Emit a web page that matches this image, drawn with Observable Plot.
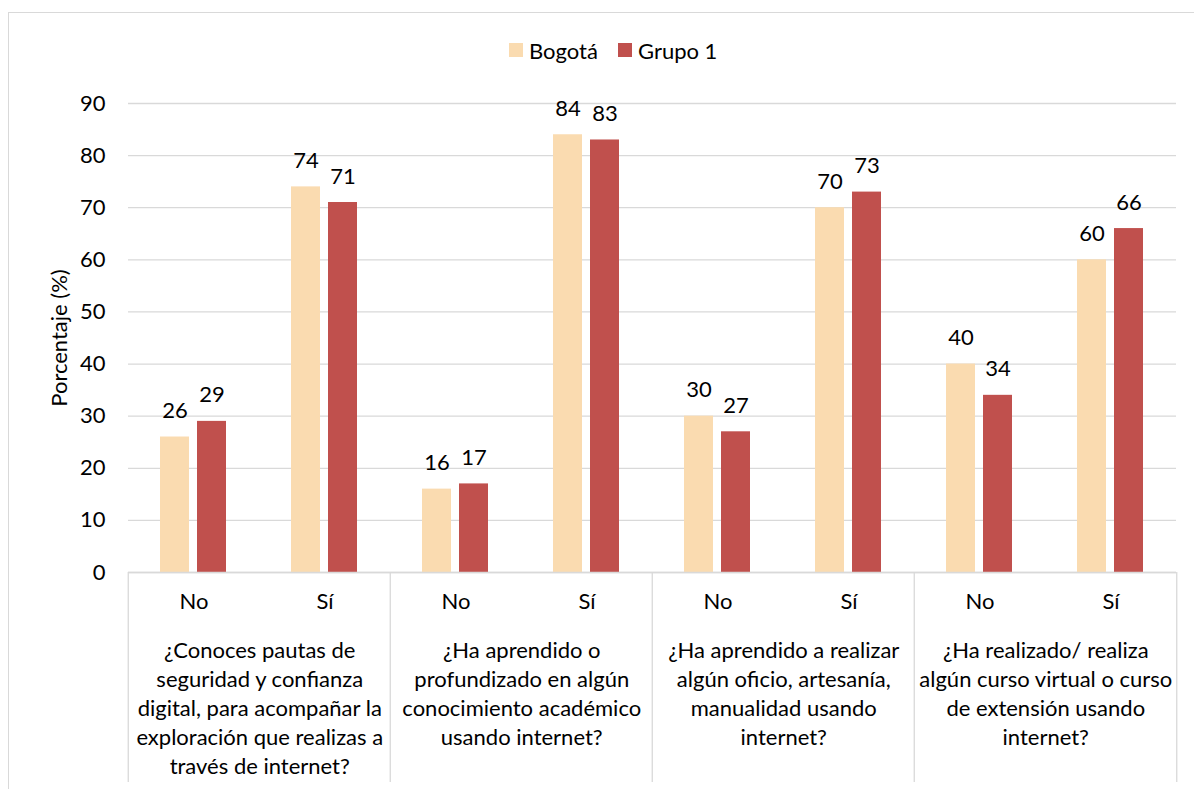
<!DOCTYPE html>
<html>
<head>
<meta charset="utf-8">
<script src="https://cdn.jsdelivr.net/npm/d3@7"></script>
<script src="https://cdn.jsdelivr.net/npm/@observablehq/plot@0.6"></script>
<style>
  html, body { margin: 0; padding: 0; background: #fff; overflow: hidden; width: 1194px; height: 789px; }
  #frame { position: absolute; left: 8px; top: 12px; width: 1200px; height: 800px; border: 1px solid #d9d9d9; box-sizing: border-box; }
  #legend { position: absolute; left: 0; top: 36px; width: 1194px; height: 28px; display: flex; align-items: center; font-family: Lato, sans-serif; font-size: 22px; color: #000; }
  #legend .item { display: flex; align-items: center; position: absolute; }
  #legend .sw { width: 14px; height: 14px; margin-right: 6px; }
  #chart { position: absolute; left: 0; top: 75px; }
</style>
</head>
<body>
<div id="frame"></div>
<div id="legend"></div>
<div id="chart"></div>
<script>
// ---- data ----
const series = ["Bogotá", "Grupo 1"];
const colors = ["#FADBB0", "#C0504D"];
const answers = ["No", "Sí"];
const questions = [
  ["¿Conoces pautas de", "seguridad y confianza", "digital, para acompañar la", "exploración que realizas a", "través de internet?"],
  ["¿Ha aprendido o", "profundizado en algún", "conocimiento académico", "usando internet?"],
  ["¿Ha aprendido a realizar", "algún oficio, artesanía,", "manualidad usando", "internet?"],
  ["¿Ha realizado/ realiza", "algún curso virtual o curso", "de extensión usando", "internet?"]
];
const bogota = [26, 74, 16, 84, 30, 70, 40, 60];
const grupo1 = [29, 71, 17, 83, 27, 73, 34, 66];
const yTicks = [0, 10, 20, 30, 40, 50, 60, 70, 80, 90];

// ---- build table ----
const keys = [];
questions.forEach((q, qi) => answers.forEach(a => keys.push(`${qi}|${a}`)));
const rows = [];
keys.forEach((k, i) => {
  rows.push({key: k, series: series[0], value: bogota[i]});
  rows.push({key: k, series: series[1], value: grupo1[i]});
});
const catLabels = keys.map(k => ({key: k, label: k.split("|")[1]}));
const qLabels = questions.map((q, qi) => ({key: `${qi}|No`, text: q.join("\n")}));
const lastKey = keys[keys.length - 1];

// ---- legend ----
const legend = document.getElementById("legend");
const legendLeft = [509, 618];
series.forEach((s, i) => {
  const it = document.createElement("div");
  it.className = "item";
  it.style.left = legendLeft[i] + "px";
  it.innerHTML = `<span class="sw" style="background:${colors[i]}"></span><span>${s}</span>`;
  legend.appendChild(it);
});

// ---- chart ----
const W = 1194, H = 714;
const mL = 126, mR = 16, mT = 28, mB = 217;
const facetW = (W - mL - mR) / keys.length;
const grid = "#d9d9d9";
const sepOpts = {fx: "key", x: null, stroke: grid, strokeWidth: 1.3, insetTop: H - mT - mB, insetBottom: -210};

const chart = Plot.plot({
  width: W,
  height: H,
  marginLeft: mL,
  marginRight: mR,
  marginTop: mT,
  marginBottom: mB,
  style: {fontFamily: "Lato, sans-serif", fontSize: "22px", color: "#000", background: "transparent", overflow: "visible"},
  fx: {domain: keys, padding: 0, axis: null},
  x: {domain: series, paddingInner: 0.21, paddingOuter: 0.842, axis: null},
  y: {domain: [0, 90], axis: null},
  color: {domain: series, range: colors},
  marks: [
    Plot.gridY(yTicks, {stroke: grid, strokeOpacity: 1, strokeWidth: 1.3}),
    Plot.axisY(yTicks, {tickSize: 0, tickPadding: 23, label: "Porcentaje (%)", labelAnchor: "center", labelOffset: 77, labelArrow: "none", fill: "#000"}),
    Plot.barY(rows, {fx: "key", x: "series", y: "value", fill: "series"}),
    Plot.text(rows, {fx: "key", x: "series", y: "value", text: d => String(d.value), dy: -26, fill: "#000"}),
    Plot.ruleY([0], {stroke: grid, strokeWidth: 1.3}),
    Plot.ruleX(qLabels, {...sepOpts, dx: -facetW / 2}),
    Plot.ruleX([{key: lastKey}], {...sepOpts, dx: facetW / 2}),
    Plot.text(catLabels, {fx: "key", text: "label", frameAnchor: "bottom", dy: 36, fill: "#000"}),
    Plot.text(qLabels, {fx: "key", text: "text", frameAnchor: "bottom", lineAnchor: "top", lineHeight: 1.318, dx: facetW / 2, dy: 65, fill: "#000"})
  ]
});
document.getElementById("chart").appendChild(chart);
</script>
</body>
</html>
